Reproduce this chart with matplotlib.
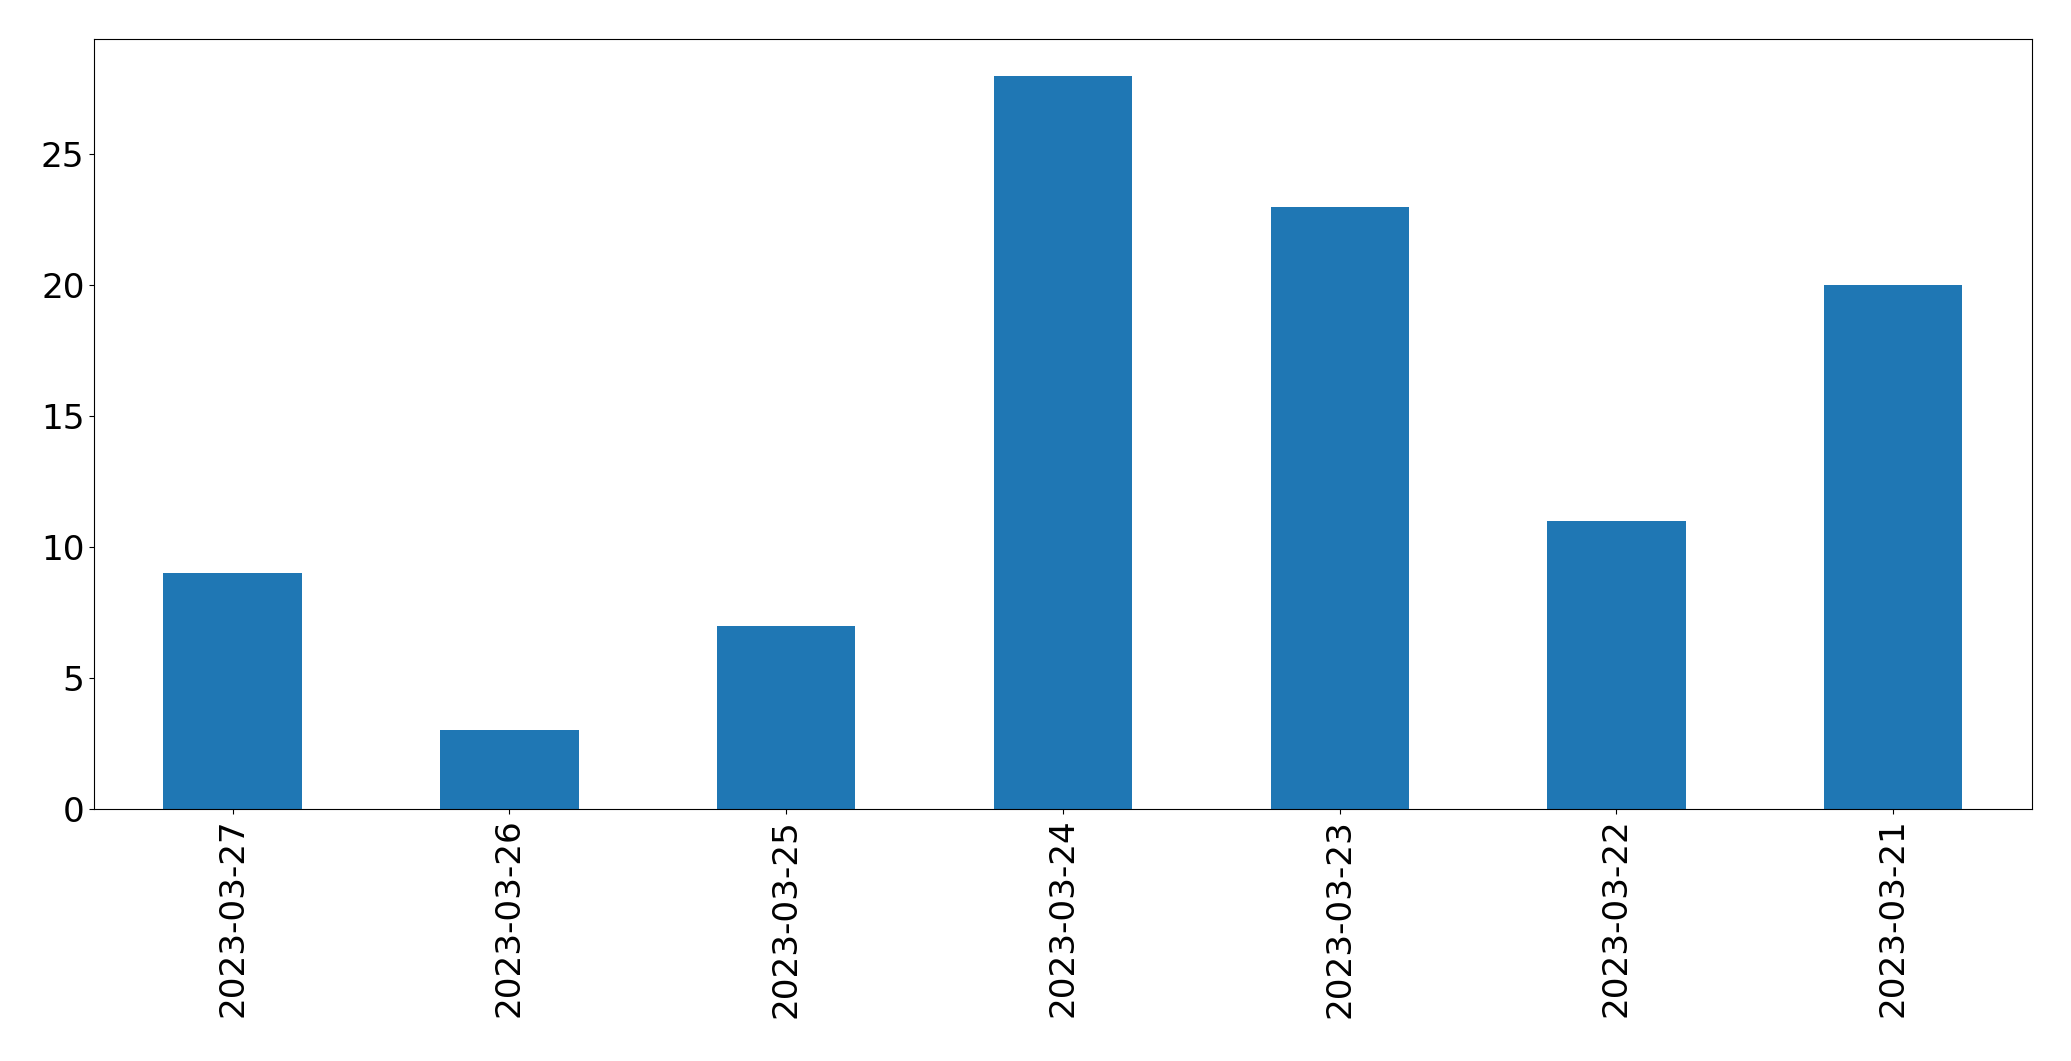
import matplotlib
matplotlib.use('Agg')
import matplotlib.pyplot as plt

# Daily counts
dates = ['2023-03-27', '2023-03-26', '2023-03-25', '2023-03-24',
         '2023-03-23', '2023-03-22', '2023-03-21']
counts = [9, 3, 7, 28, 23, 11, 20]

fig = plt.figure(figsize=(20.71, 10.61), dpi=100)
ax = fig.add_axes([0.0455, 0.2375, 0.9355, 0.7255])

x = list(range(len(dates)))
ax.bar(x, counts, width=0.5, color='#1f77b4')
ax.set_xlim(-0.5, len(dates) - 0.5)
ax.set_ylim(0, max(counts) * 1.05)
ax.set_xticks(x)
ax.set_xticklabels(dates, rotation=90)
ax.tick_params(axis='both', labelsize=24.7)

fig.savefig('out.png', dpi=100)
plt.close(fig)
